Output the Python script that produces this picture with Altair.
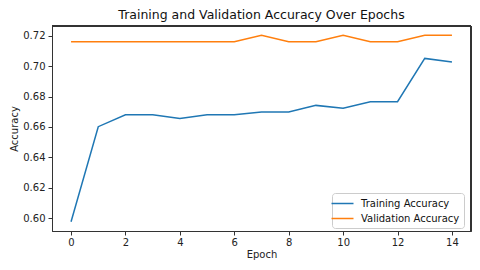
import altair as alt
import pandas as pd

epochs = list(range(15))
train_acc = [0.5977, 0.6602, 0.6680, 0.6680, 0.6656, 0.6680, 0.6680, 0.6699,
             0.6699, 0.6742, 0.6723, 0.6766, 0.6766, 0.7051, 0.7027]
val_acc = [0.7160, 0.7160, 0.7160, 0.7160, 0.7160, 0.7160, 0.7160, 0.7203,
           0.7160, 0.7160, 0.7203, 0.7160, 0.7160, 0.7203, 0.7203]
series = ["Training Accuracy", "Validation Accuracy"]
colors = ["#1f77b4", "#ff7f0e"]

rows = []
for e, t, v in zip(epochs, train_acc, val_acc):
    rows.append({"Epoch": e, "Accuracy": t, "Series": series[0]})
    rows.append({"Epoch": e, "Accuracy": v, "Series": series[1]})
df = pd.DataFrame(rows)

FONT = "DejaVu Sans"
W, H = 419, 205

lines = alt.Chart(df).mark_line(strokeWidth=1.5).encode(
    x=alt.X("Epoch:Q",
            scale=alt.Scale(domain=[-0.7, 14.7], nice=False, zero=False),
            axis=alt.Axis(values=[0, 2, 4, 6, 8, 10, 12, 14], format="d",
                          grid=False, tickSize=4, labelPadding=2,
                          titlePadding=2, domain=True)),
    y=alt.Y("Accuracy:Q",
            scale=alt.Scale(domain=[0.5916, 0.7264], nice=False, zero=False),
            axis=alt.Axis(values=[0.60, 0.62, 0.64, 0.66, 0.68, 0.70, 0.72],
                          format=".2f", grid=False, tickSize=4, labelPadding=3,
                          titlePadding=3, domain=True)),
    color=alt.Color("Series:N",
                    scale=alt.Scale(domain=series, range=colors),
                    legend=alt.Legend(title=None, orient="none",
                                      legendX=280, legendY=167,
                                      symbolType="M-2,0L2,0",
                                      symbolStrokeWidth=1.5,
                                      symbolSize=121, labelFontSize=10,
                                      labelFont=FONT, labelColor="#111",
                                      labelOffset=12,
                                      strokeColor="#cccccc", fillColor="white",
                                      padding=4, cornerRadius=3, rowPadding=3)),
)

top_rule = alt.Chart(df).mark_rule(color="#333", strokeWidth=1).encode(
    x=alt.value(0), x2=alt.value(W), y=alt.value(0))
right_rule = alt.Chart(df).mark_rule(color="#333", strokeWidth=1).encode(
    x=alt.value(W), y=alt.value(0), y2=alt.value(H))

chart = alt.layer(lines, top_rule, right_rule).properties(
    width=W, height=H,
    title=alt.TitleParams("Training and Validation Accuracy Over Epochs",
                          fontSize=12.5, fontWeight="normal", font=FONT,
                          color="#111", offset=4),
    autosize=alt.AutoSizeParams(type="none"),
    padding={"left": 44, "top": 18, "right": 1, "bottom": 31},
).configure_view(
    stroke="#333", strokeWidth=1
).configure_axis(
    labelFont=FONT, titleFont=FONT, labelFontSize=10, titleFontSize=10,
    titleFontWeight="normal", labelColor="#222", titleColor="#222",
    tickColor="#333", domainColor="#333"
)

chart.save("out.html", embed_options={"renderer": "svg", "actions": False})
